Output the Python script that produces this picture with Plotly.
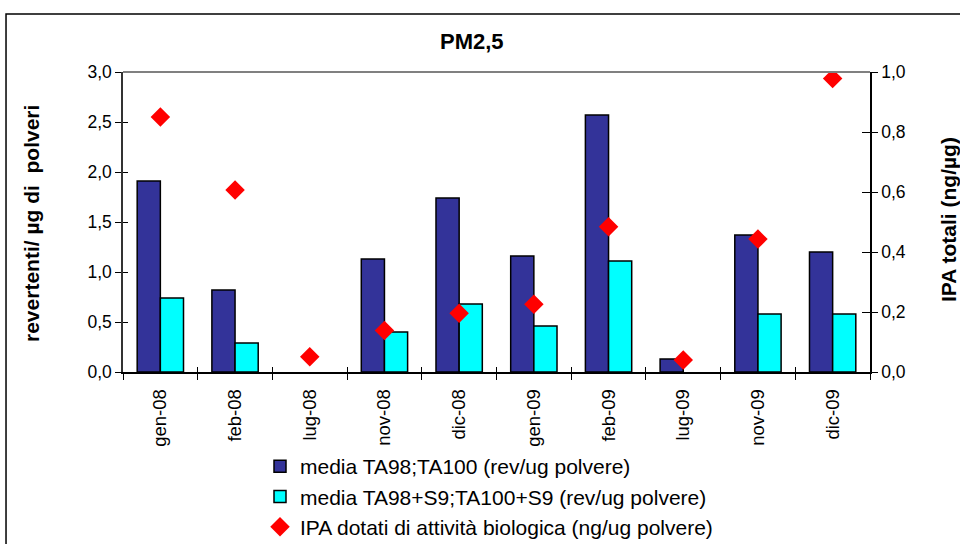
import plotly.graph_objects as go

categories = ["gen-08", "feb-08", "lug-08", "nov-08", "dic-08", "gen-09", "feb-09", "lug-09", "nov-09", "dic-09"]
ta_media = [1.91, 0.82, None, 1.13, 1.74, 1.16, 2.57, 0.13, 1.37, 1.20]
ta_s9_media = [0.74, 0.29, None, 0.40, 0.68, 0.46, 1.11, None, 0.58, 0.58]
ipa = [0.85, 0.607, 0.051, 0.138, 0.196, 0.226, 0.484, 0.04, 0.443, 0.978]

names = ["media TA98;TA100 (rev/ug polvere)",
         "media TA98+S9;TA100+S9 (rev/ug polvere)",
         "IPA dotati di attività biologica (ng/ug polvere)"]

FONT = "Liberation Sans, Arial, sans-serif"

fig = go.Figure()
fig.add_trace(go.Bar(x=categories, y=ta_media, name=names[0], legendgroup="a",
                     marker=dict(color="#333399", line=dict(color="black", width=1.5))))
fig.add_trace(go.Bar(x=categories, y=ta_s9_media, name=names[1], legendgroup="b",
                     marker=dict(color="#00FFFF", line=dict(color="black", width=1.5))))
fig.add_trace(go.Scatter(x=categories, y=ipa, name=names[2], legendgroup="c", yaxis="y2",
                         mode="markers", marker=dict(symbol="diamond", size=15, color="#FF0000")))

axis_font = dict(family=FONT, size=17.5, color="black")
xtick_font = dict(family=FONT, size=18.5, color="black")

fig.update_layout(
    width=960, height=544,
    margin=dict(l=123, r=90, t=72, b=172, autoexpand=False),
    paper_bgcolor="white", plot_bgcolor="white",
    separators=",.",
    barmode="group", bargap=0.38, bargroupgap=0,
    showlegend=True,
    legend=dict(x=(260 - 123) / 747, y=(372 - 446) / 300, xanchor="left", yanchor="top",
                font=dict(family=FONT, size=21, color="black"),
                tracegroupgap=0, bgcolor="rgba(0,0,0,0)"),
    xaxis=dict(type="category", tickangle=-90, tickfont=xtick_font, automargin=False,
               categoryorder="array", categoryarray=categories, range=[-0.5, 9.5],
               showline=True, linecolor="black", linewidth=1.5,
               ticks="outside", ticklen=6, tickcolor="black", tickson="boundaries",
               ticklabelstandoff=8,
               showgrid=False, zeroline=False),
    xaxis2=dict(type="category", overlaying="x", side="bottom", anchor="y", automargin=False,
                categoryorder="array", categoryarray=categories, range=[-0.5, 9.5],
                showticklabels=False, ticks="inside", ticklen=5, tickcolor="black",
                tickson="boundaries", showline=False, showgrid=False, zeroline=False),
    yaxis=dict(range=[0, 3.0], dtick=0.5, tickformat=".1f", tickfont=axis_font, automargin=False,
               showline=True, linecolor="#333333", linewidth=1.5,
               ticks="outside", ticklen=6, tickcolor="black",
               showgrid=False, zeroline=False),
    yaxis2=dict(range=[0, 1.0], dtick=0.2, tickformat=".1f", tickfont=axis_font, automargin=False,
                overlaying="y", side="right",
                showline=True, linecolor="black", linewidth=1.5,
                ticks="outside", ticklen=6, tickcolor="black",
                showgrid=False, zeroline=False),
    yaxis3=dict(range=[0, 3.0], dtick=0.5, overlaying="y", side="left", automargin=False,
                showticklabels=False, ticks="inside", ticklen=5, tickcolor="black",
                showline=False, showgrid=False, zeroline=False),
    yaxis4=dict(range=[0, 1.0], dtick=0.2, overlaying="y", side="right", automargin=False,
                showticklabels=False, ticks="inside", ticklen=8, tickcolor="black",
                showline=False, showgrid=False, zeroline=False),
    shapes=[
        dict(type="line", xref="paper", yref="paper", x0=0, x1=1, y0=1, y1=1,
             line=dict(color="#808080", width=2)),
        dict(type="rect", xref="paper", yref="paper", x0=-0.1566, x1=1.2, y0=1.1933, y1=-0.7,
             line=dict(color="black", width=1.5), fillcolor="rgba(0,0,0,0)"),
    ],
    annotations=[
        dict(text="<b>PM2,5</b>", xref="paper", yref="paper", x=(472 - 123) / 747, y=(372 - 42) / 300,
             showarrow=False, font=dict(family=FONT, size=22, color="black"),
             xanchor="center", yanchor="middle"),
        dict(text="<b>revertenti/ µg di&nbsp; polveri</b>", xref="paper", yref="paper",
             x=(32 - 123) / 747, y=(372 - 224) / 300, textangle=-90, showarrow=False,
             font=dict(family=FONT, size=21, color="black"), xanchor="center", yanchor="middle"),
        dict(text="<b>IPA totali (ng/µg)</b>", xref="paper", yref="paper",
             x=(948 - 123) / 747, y=(372 - 220) / 300, textangle=-90, showarrow=False,
             font=dict(family=FONT, size=21, color="black"), xanchor="center", yanchor="middle"),
    ],
)

# invisible helper traces so the overlay axes (tick crossing marks) are drawn
fig.add_trace(go.Scatter(x=[categories[0]], y=[None], yaxis="y3", showlegend=False, hoverinfo="skip"))
fig.add_trace(go.Scatter(x=[categories[0]], y=[None], yaxis="y4", showlegend=False, hoverinfo="skip"))
fig.add_trace(go.Scatter(x=categories, y=[None] * len(categories), xaxis="x2", yaxis="y",
                         showlegend=False, hoverinfo="skip"))

fig.write_html("out.html")
